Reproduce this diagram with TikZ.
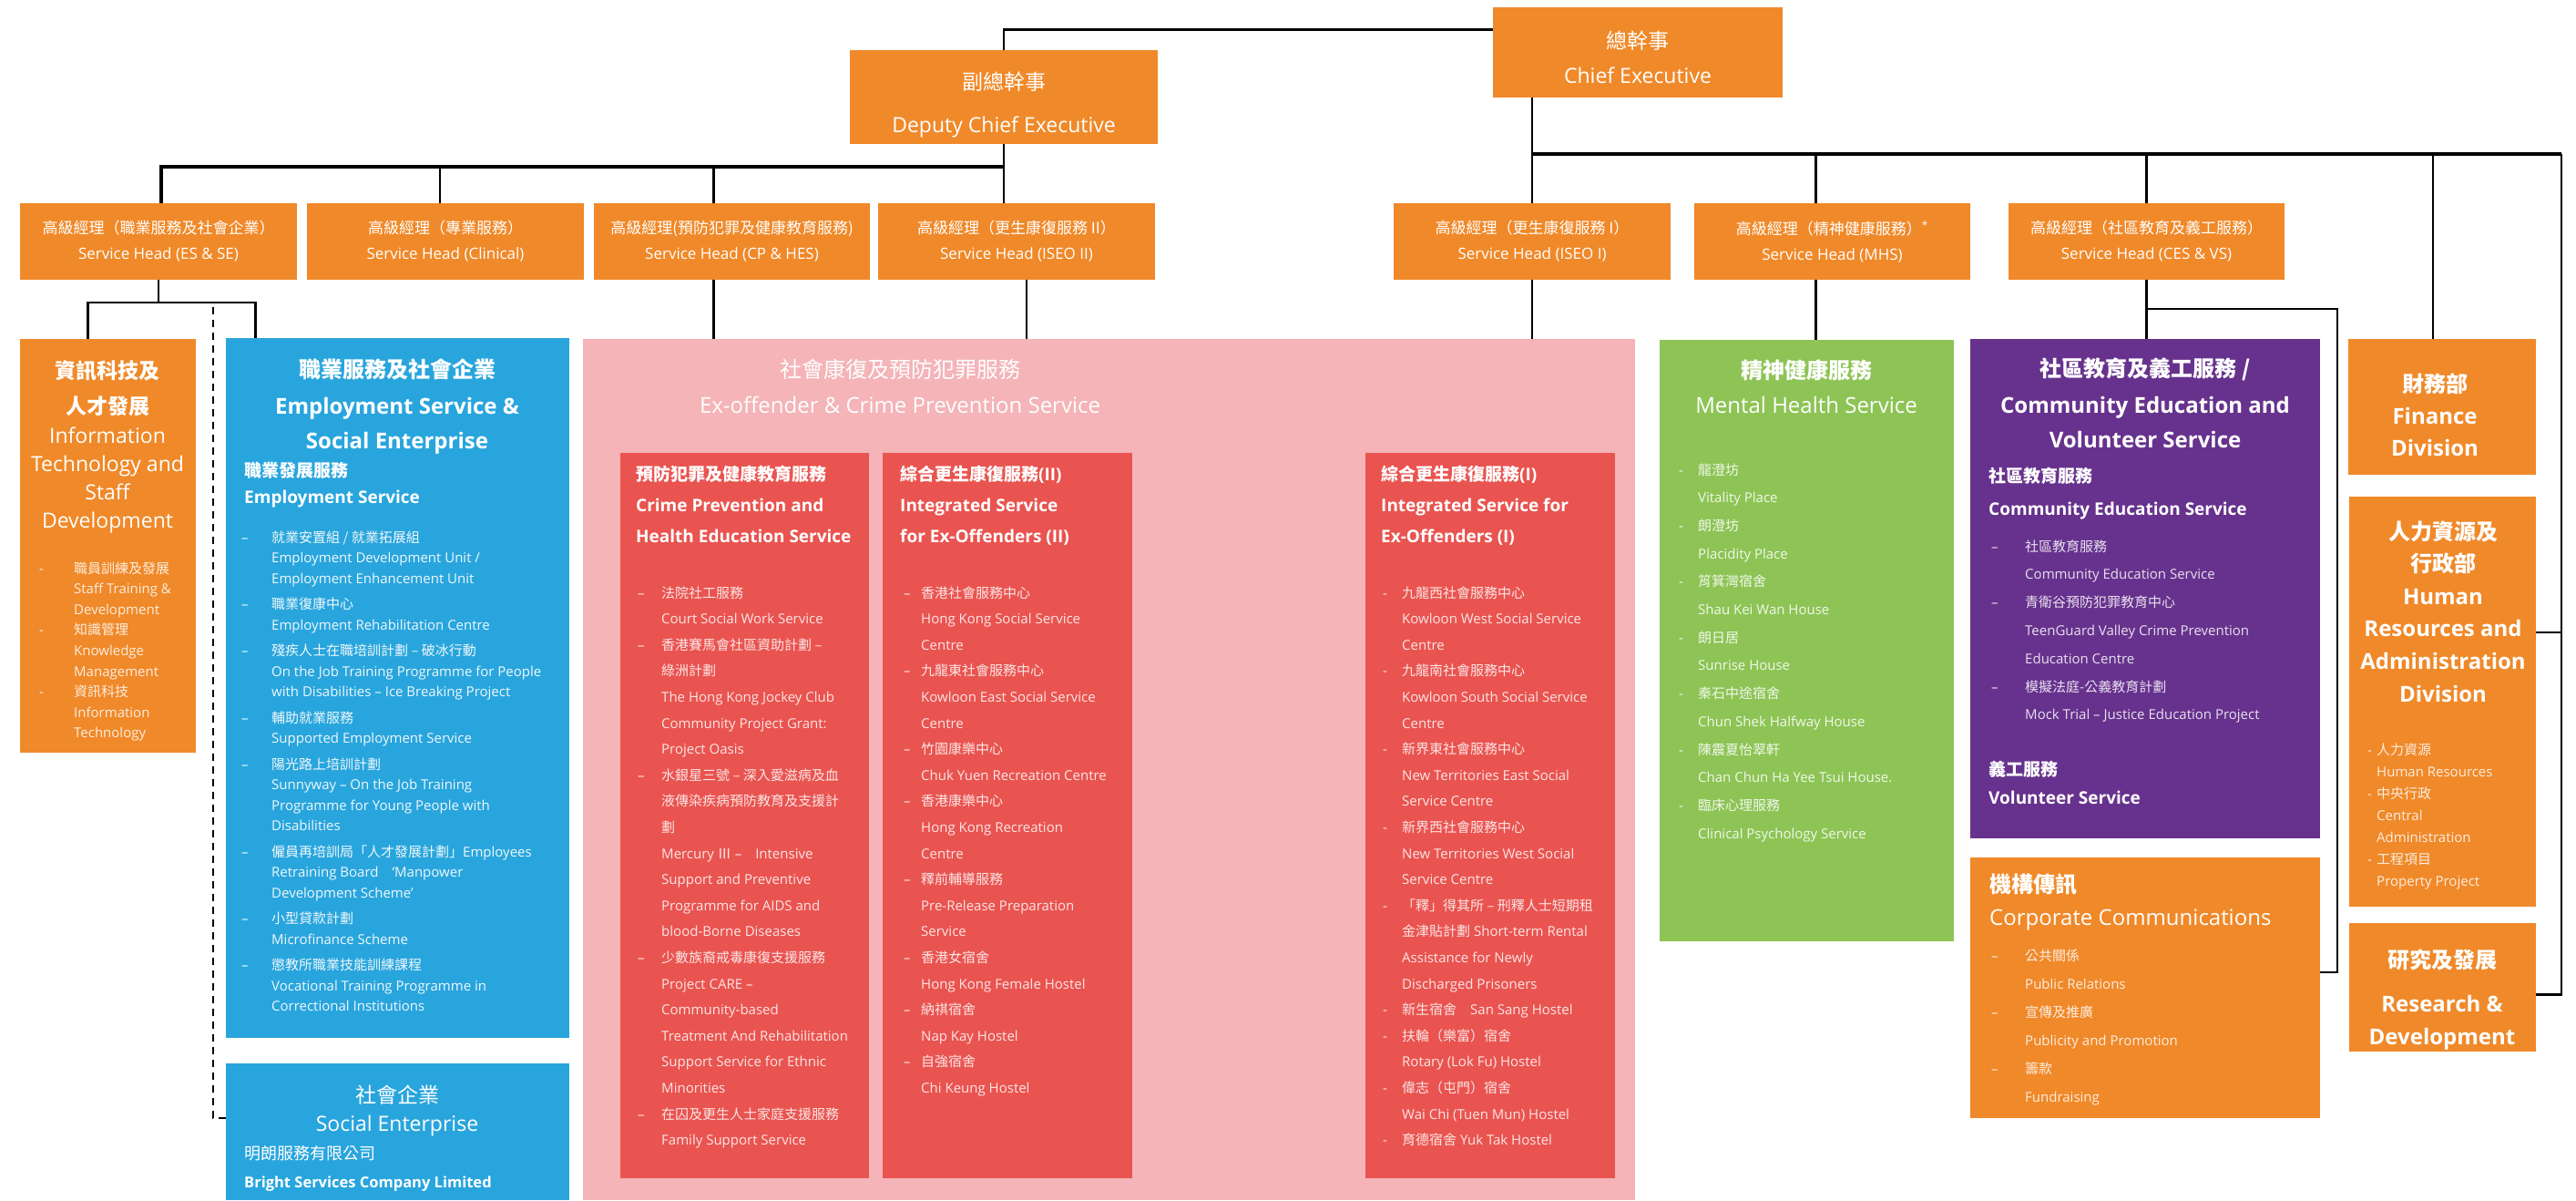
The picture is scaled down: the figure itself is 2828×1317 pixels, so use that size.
\documentclass[tikz,border=0pt]{standalone}
\usepackage{fontspec}
\setmainfont{Open Sans}
\newfontfamily\cjk{Noto Sans CJK TC}
\usepackage{tikz}
\definecolor{orgorange}{RGB}{240,137,41}
\definecolor{orgblue}{RGB}{41,165,221}
\definecolor{orgpink}{RGB}{244,180,184}
\definecolor{orgred}{RGB}{233,84,80}
\definecolor{orggreen}{RGB}{141,196,85}
\definecolor{orgpurple}{RGB}{103,50,141}
\newcommand{\zh}[1]{{\cjk #1}}
\newcommand{\fsz}[2]{\fontsize{#1}{#2}\selectfont}
\newcommand{\leftlines}[1]{\begin{tabular}[t]{@{}l@{}}#1\end{tabular}}
\newcommand{\midlines}[1]{\begin{tabular}[t]{@{}c@{}}#1\end{tabular}}
\newlength{\listind}
\newcommand{\ldsh}{\makebox[\listind][l]{–}}
\newcommand{\lhyp}{\makebox[\listind][l]{-}}
\newcommand{\lsk}{\hspace*{\listind}}
\tikzstyle{box} = [rectangle, inner sep=0pt, outer sep=0pt, anchor=north west]
\tikzstyle{headbox} = [box, fill=orgorange, minimum width=304pt, minimum height=84pt, text=white, align=center, font=\fsz{17}{28}]
\tikzstyle{title} = [inner sep=0pt, anchor=base, text=white]
\tikzstyle{subtitle} = [inner sep=0pt, anchor=base west, text=white]
\tikzstyle{conn} = [line width=2.4pt]
\tikzstyle{bus} = [line width=3.2pt]
\tikzset{items/.style={inner sep=0pt, anchor=base west, execute at begin node={\setlength{\listind}{#1}}}}

\begin{document}
\begin{tikzpicture}[x=1pt, y=-1pt]
\useasboundingbox (0,0) rectangle (2828,1317);
% top management
\node[box, fill=orgorange, minimum width=318pt, minimum height=99pt] (ce) at (1639,8) {};
\node[title, font=\fsz{23}{38}] (cet) at (1798,53) {\midlines{\zh{總幹事}\\Chief Executive}};
\node[box, fill=orgorange, minimum width=338pt, minimum height=103pt] (dce) at (933,55) {};
\node[title, font=\fsz{23}{47}] (dcet) at (1102,98) {\midlines{\zh{副總幹事}\\Deputy Chief Executive}};

% service heads
\node[headbox] (hes) at (22,223) {\zh{高級經理（職業服務及社會企業）}\\Service Head (ES \& SE)};
\node[headbox] (hcl) at (337,223) {\zh{高級經理（專業服務）}\\Service Head (Clinical)};
\node[headbox, minimum width=303pt] (hcp) at (652,223) {\zh{高級經理(預防犯罪及健康教育服務)}\\Service Head (CP \& HES)};
\node[headbox] (hi2) at (964,223) {\zh{高級經理（更生康復服務 II）}\\Service Head (ISEO II)};
\node[headbox] (hi1) at (1530,223) {\zh{高級經理（更生康復服務 I）}\\Service Head (ISEO I)};
\node[headbox, minimum width=303pt] (hmh) at (1860,223) {\zh{高級經理（精神健康服務）}\textsuperscript{*}\\Service Head (MHS)};
\node[headbox, minimum width=303pt] (hce) at (2205,223) {\zh{高級經理（社區教育及義工服務）}\\Service Head (CES \& VS)};

% information technology and staff development
\node[box, fill=orgorange, minimum width=193pt, minimum height=454pt] (it) at (22,372) {};
\node[title, font=\fsz{23}{31}] (itt) at (118,415) {\midlines{{\bfseries\zh{資訊科技及}}\\[8pt]{\bfseries\zh{人才發展}}\\[1pt]Information\\Technology and\\Staff\\Development}};
\node[items=38pt, text=white!85!orgorange, font=\fsz{15}{22.6}] (itl) at (43,629) {\leftlines{\lhyp\zh{職員訓練及發展}\\ \lsk Staff Training \&\\ \lsk Development\\%
\lhyp\zh{知識管理}\\ \lsk Knowledge\\ \lsk Management\\%
\lhyp\zh{資訊科技}\\ \lsk Information\\ \lsk Technology}};

% employment service and social enterprise
\node[box, fill=orgblue, minimum width=377pt, minimum height=768pt] (emp) at (248,371) {};
\node[title, font=\bfseries\fsz{24}{38}] (empt) at (436,414) {\midlines{\zh{職業服務及社會企業}\\[2pt]Employment Service \&\\Social Enterprise}};
\node[subtitle, font=\bfseries\fsz{19}{29}] (emps) at (268,523) {\leftlines{\zh{職業發展服務}\\Employment Service}};
\node[items=33pt, text=white!92!orgblue, font=\fsz{15}{22.5}] (empl) at (265,595) {\leftlines{\ldsh\zh{就業安置組 / 就業拓展組}\\ \lsk Employment Development Unit /\\ \lsk Employment Enhancement Unit\\[6pt]%
\ldsh\zh{職業復康中心}\\ \lsk Employment Rehabilitation Centre\\[6pt]%
\ldsh\zh{殘疾人士在職培訓計劃 – 破冰行動}\\ \lsk On the Job Training Programme for People\\ \lsk with Disabilities – Ice Breaking Project\\[6pt]%
\ldsh\zh{輔助就業服務}\\ \lsk Supported Employment Service\\[6pt]%
\ldsh\zh{陽光路上培訓計劃}\\ \lsk Sunnyway – On the Job Training\\ \lsk Programme for Young People with\\ \lsk Disabilities\\[6pt]%
\ldsh\zh{僱員再培訓局「人才發展計劃」}Employees\\ \lsk Retraining Board\quad ‘Manpower\\ \lsk Development Scheme’\\[6pt]%
\ldsh\zh{小型貸款計劃}\\ \lsk Microfinance Scheme\\[6pt]%
\ldsh\zh{懲教所職業技能訓練課程}\\ \lsk Vocational Training Programme in\\ \lsk Correctional Institutions}};
\node[box, fill=orgblue, minimum width=377pt, minimum height=150pt] (se) at (248,1167) {};
\node[title, font=\fsz{23}{31}] (set) at (436,1210) {\midlines{\zh{社會企業}\\Social Enterprise}};
\node[subtitle, font=\bfseries\fsz{16.5}{31}] (ses) at (268,1272) {\leftlines{{\mdseries\fsz{18}{31}\zh{明朗服務有限公司}}\\Bright Services Company Limited}};

% ex-offender and crime prevention service
\node[box, fill=orgpink, minimum width=1155pt, minimum height=945pt] (exo) at (640,372) {};
\node[title, font=\fsz{24}{39}] (exot) at (988,414) {\midlines{\zh{社會康復及預防犯罪服務}\\Ex-offender \& Crime Prevention Service}};
\node[box, fill=orgred, minimum width=273pt, minimum height=796pt] (cp) at (681,497) {};
\node[subtitle, font=\bfseries\fsz{19}{34}] (cpt) at (698,527) {\leftlines{\zh{預防犯罪及健康教育服務}\\Crime Prevention and\\Health Education Service}};
\node[items=26pt, text=white!85!orgred, font=\fsz{15}{28.6}] (cpl) at (700,656) {\leftlines{\ldsh\zh{法院社工服務}\\ \lsk Court Social Work Service\\%
\ldsh\zh{香港賽馬會社區資助計劃 –}\\ \lsk\zh{綠洲計劃}\\ \lsk The Hong Kong Jockey Club\\ \lsk Community Project Grant:\\ \lsk Project Oasis\\%
\ldsh\zh{水銀星三號 – 深入愛滋病及血}\\ \lsk\zh{液傳染疾病預防教育及支援計}\\ \lsk\zh{劃}\\ \lsk Mercury \zh{Ⅲ} –\quad Intensive\\ \lsk Support and Preventive\\ \lsk Programme for AIDS and\\ \lsk blood-Borne Diseases\\%
\ldsh\zh{少數族裔戒毒康復支援服務}\\ \lsk Project CARE –\\ \lsk Community-based\\ \lsk Treatment And Rehabilitation\\ \lsk Support Service for Ethnic\\ \lsk Minorities\\%
\ldsh\zh{在囚及更生人士家庭支援服務}\\ \lsk Family Support Service}};
\node[box, fill=orgred, minimum width=274pt, minimum height=796pt] (i2) at (969,497) {};
\node[subtitle, font=\bfseries\fsz{19}{34}] (i2t) at (988,527) {\leftlines{\zh{綜合更生康復服務}(II)\\Integrated Service\\for Ex-Offenders (II)}};
\node[items=19pt, text=white!85!orgred, font=\fsz{15}{28.6}] (i2l) at (992,656) {\leftlines{\ldsh\zh{香港社會服務中心}\\ \lsk Hong Kong Social Service\\ \lsk Centre\\%
\ldsh\zh{九龍東社會服務中心}\\ \lsk Kowloon East Social Service\\ \lsk Centre\\%
\ldsh\zh{竹園康樂中心}\\ \lsk Chuk Yuen Recreation Centre\\%
\ldsh\zh{香港康樂中心}\\ \lsk Hong Kong Recreation\\ \lsk Centre\\%
\ldsh\zh{釋前輔導服務}\\ \lsk Pre-Release Preparation\\ \lsk Service\\%
\ldsh\zh{香港女宿舍}\\ \lsk Hong Kong Female Hostel\\%
\ldsh\zh{納祺宿舍}\\ \lsk Nap Kay Hostel\\%
\ldsh\zh{自強宿舍}\\ \lsk Chi Keung Hostel}};
\node[box, fill=orgred, minimum width=274pt, minimum height=796pt] (i1) at (1499,497) {};
\node[subtitle, font=\bfseries\fsz{19}{34}] (i1t) at (1516,527) {\leftlines{\zh{綜合更生康復服務}(I)\\Integrated Service for\\Ex-Offenders (I)}};
\node[items=21pt, text=white!85!orgred, font=\fsz{15}{28.6}] (i1l) at (1518,656) {\leftlines{\lhyp\zh{九龍西社會服務中心}\\ \lsk Kowloon West Social Service\\ \lsk Centre\\%
\lhyp\zh{九龍南社會服務中心}\\ \lsk Kowloon South Social Service\\ \lsk Centre\\%
\lhyp\zh{新界東社會服務中心}\\ \lsk New Territories East Social\\ \lsk Service Centre\\%
\lhyp\zh{新界西社會服務中心}\\ \lsk New Territories West Social\\ \lsk Service Centre\\%
\lhyp\zh{「釋」得其所 – 刑釋人士短期租}\\ \lsk\zh{金津貼計劃} Short-term Rental\\ \lsk Assistance for Newly\\ \lsk Discharged Prisoners\\%
\lhyp\zh{新生宿舍}\quad San Sang Hostel\\%
\lhyp\zh{扶輪（樂富）宿舍}\\ \lsk Rotary (Lok Fu) Hostel\\%
\lhyp\zh{偉志（屯門）宿舍}\\ \lsk Wai Chi (Tuen Mun) Hostel\\%
\lhyp\zh{育德宿舍} Yuk Tak Hostel}};

% mental health service
\node[box, fill=orggreen, minimum width=323pt, minimum height=660pt] (mh) at (1822,373) {};
\node[title, font=\fsz{24}{38}] (mht) at (1983,415) {\midlines{{\bfseries\zh{精神健康服務}}\\Mental Health Service}};
\node[items=21pt, text=white!88!orggreen, font=\fsz{15}{30.7}] (mhl) at (1843,521) {\leftlines{\lhyp\zh{龍澄坊}\\ \lsk Vitality Place\\%
\lhyp\zh{朗澄坊}\\ \lsk Placidity Place\\%
\lhyp\zh{筲箕灣宿舍}\\ \lsk Shau Kei Wan House\\%
\lhyp\zh{朗日居}\\ \lsk Sunrise House\\%
\lhyp\zh{秦石中途宿舍}\\ \lsk Chun Shek Halfway House\\%
\lhyp\zh{陳震夏怡翠軒}\\ \lsk Chan Chun Ha Yee Tsui House.\\%
\lhyp\zh{臨床心理服務}\\ \lsk Clinical Psychology Service}};

% community education and volunteer service
\node[box, fill=orgpurple, minimum width=384pt, minimum height=548pt] (ces) at (2163,372) {};
\node[title, font=\bfseries\fsz{24}{38}] (cest) at (2355,413) {\midlines{\zh{社區教育及義工服務 /}\\[2pt]Community Education and\\Volunteer Service}};
\node[subtitle, font=\bfseries\fsz{19}{36}] (cess) at (2183,529) {\leftlines{\zh{社區教育服務}\\Community Education Service}};
\node[items=37pt, text=white!85!orgpurple, font=\fsz{15}{30.8}] (cesl) at (2186,605) {\leftlines{\ldsh\zh{社區教育服務}\\ \lsk Community Education Service\\%
\ldsh\zh{青衛谷預防犯罪教育中心}\\ \lsk TeenGuard Valley Crime Prevention\\ \lsk Education Centre\\%
\ldsh\zh{模擬法庭-公義教育計劃}\\ \lsk Mock Trial – Justice Education Project}};
\node[subtitle, font=\bfseries\fsz{19}{31}] (vols) at (2183,851) {\leftlines{\zh{義工服務}\\Volunteer Service}};

% corporate communications
\node[box, fill=orgorange, minimum width=384pt, minimum height=286pt] (cc) at (2163,941) {};
\node[subtitle, font=\fsz{24}{36}] (cct) at (2184,979) {\leftlines{{\bfseries\zh{機構傳訊}}\\Corporate Communications}};
\node[items=37pt, text=white!85!orgorange, font=\fsz{15}{31}] (ccl) at (2186,1054) {\leftlines{\ldsh\zh{公共關係}\\ \lsk Public Relations\\%
\ldsh\zh{宣傳及推廣}\\ \lsk Publicity and Promotion\\%
\ldsh\zh{籌款}\\ \lsk Fundraising}};

% divisions
\node[box, fill=orgorange, minimum width=206pt, minimum height=149pt] (fin) at (2578,372) {};
\node[title, font=\bfseries\fsz{24}{35}] (fint) at (2673,430) {\midlines{\zh{財務部}\\Finance\\Division}};
\node[box, fill=orgorange, minimum width=205pt, minimum height=450pt] (hr) at (2579,545) {};
\node[title, font=\bfseries\fsz{24}{35.6}] (hrt) at (2682,592) {\midlines{\zh{人力資源及}\\ \zh{行政部}\\Human\\Resources and\\Administration\\Division}};
\node[items=10pt, text=white!85!orgorange, font=\fsz{15}{24}] (hrl) at (2599,828) {\leftlines{\lhyp\zh{人力資源}\\ \lsk Human Resources\\%
\lhyp\zh{中央行政}\\ \lsk Central\\ \lsk Administration\\%
\lhyp\zh{工程項目}\\ \lsk Property Project}};
\node[box, fill=orgorange, minimum width=205pt, minimum height=141pt] (rd) at (2579,1013) {};
\node[title, font=\bfseries\fsz{24}{36}] (rdt) at (2681,1062) {\midlines{\zh{研究及發展}\\[12pt]Research \&\\Development}};

% connectors
\draw[conn] ([yshift=25pt]ce.west) -| (dce.north);
\coordinate (lbus) at (1102,183);
\coordinate (rbus) at (2812,169);
\draw[conn] (dce.south) -- (dce.south |- hi2.north);
\draw[bus] ([xshift=3pt]hes.north) |- (lbus);
\draw[conn] ([xshift=-6pt]hcl.north) -- ++(0,-40);
\draw[conn] ([xshift=-20pt]hcp.north) -- ++(0,-40);
\draw[conn] (hi1.north |- ce.south) -- (hi1.north);
\draw[bus] (hi1.north |- rbus) -- (rbus);
\draw[conn] ([xshift=-18pt]hmh.north) -- ++(0,-54);
\draw[conn] (hce.north) -- (hce.north |- rbus);
\draw[conn] ([xshift=-10pt]fin.north) -- ++(0,-203);
\draw[conn] (rbus) |- ([yshift=-8pt]rd.east);
\draw[conn] ([yshift=76pt]hr.east) -- ++(28,0);
\draw[conn] (hes.south) -- ++(0,25) coordinate (esj);
\draw[conn] ([xshift=-22pt]it.north) -- ++(0,-40) -| ([xshift=-156pt]emp.north);
\draw[conn, dashed, dash pattern=on 8pt off 6pt] ([yshift=15pt]se.west) -| ([xshift=60pt]esj);
\draw[conn] ([xshift=-20pt]hcp.south) -- ++(0,65);
\draw[conn] ([xshift=11pt]hi2.south) -- ++(0,65);
\draw[conn] (hi1.south) -- (hi1.south |- exo.north);
\draw[conn] ([xshift=-18pt]hmh.south) -- ++(0,66);
\draw[conn] (hce.south) -- (hce.south |- ces.north);
\draw[conn] ([yshift=-32pt]hce.south) -| ([xshift=19pt, yshift=17pt]cc.east) -- ([yshift=17pt]cc.east);
\end{tikzpicture}
\end{document}
